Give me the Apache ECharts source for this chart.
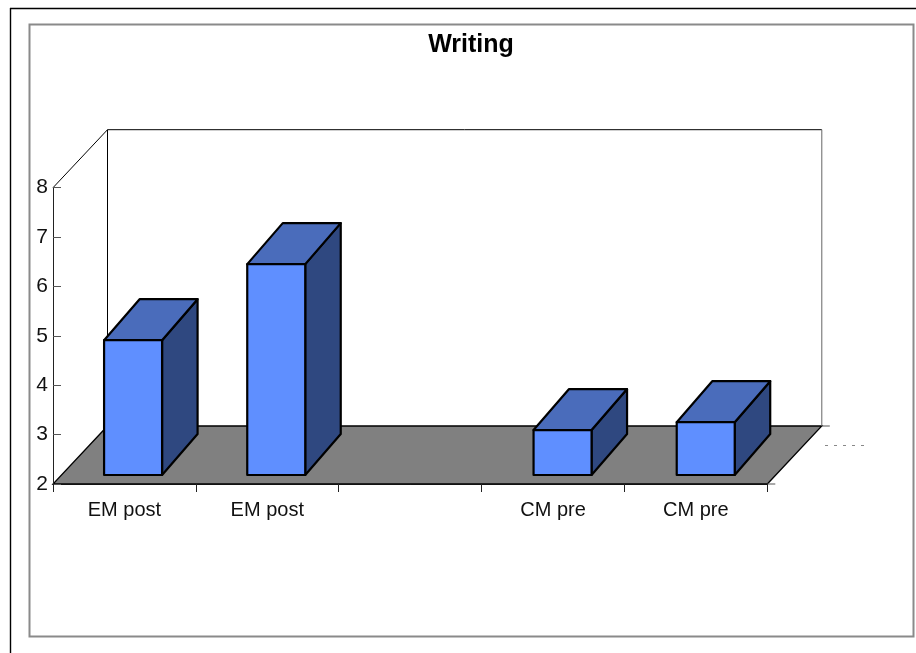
<!DOCTYPE html>
<html>
<head>
<meta charset="utf-8">
<style>html,body{margin:0;padding:0;background:#fff}#c{width:916px;height:653px}</style>
<script src="https://cdn.jsdelivr.net/npm/echarts@6/dist/echarts.min.js"></script>
</head>
<body>
<div id="c"></div>
<script>
var categories = ['EM post', 'EM post', '', 'CM pre', 'CM pre'];
var scores = [4.73, 6.27, null, 2.91, 3.07];
var titleText = 'Writing';
var yMin = 2, yMax = 8, yStep = 1;

var FONT = '"Liberation Sans", Arial, sans-serif';
var WALL_DX = 54.5, WALL_DY = 58;      // projection of the chart's depth
var BAR_DX = 35.5, BAR_DY = 41;        // projection of a bar's depth
var BAR_LIFT = 9, BAR_W = 58;

function sceneItem(params, api) {
  var r = params.coordSys;
  var l = r.x, b = r.y + r.height, t = r.y, e = r.x + r.width;
  var bl = l + WALL_DX, br = e + WALL_DX, bb = b - WALL_DY, bt = t - WALL_DY;
  function line(x1, y1, x2, y2, c) {
    return {type: 'line', shape: {x1: x1, y1: y1, x2: x2, y2: y2}, style: {stroke: c || '#000', lineWidth: 1}};
  }
  return {type: 'group', children: [
    {type: 'polygon', shape: {points: [[l, b], [e, b], [br, bb], [bl, bb]]}, style: {fill: '#808080', stroke: '#000', lineWidth: 1.3}},
    line(l, t, bl, bt), line(bl, bt, br, bt), line(bl, bt, bl, bb), line(br, bt, br, bb, '#666'),
    line(br, bb, br + 8, bb, '#555'), line(e, b, e + 8, b, '#555')
  ]};
}

function barItem(params, api) {
  var i = api.value(0), v = api.value(1);
  var base = api.coord([i, yMin]), top = api.coord([i, v]);
  var cx = base[0] + 8.65 + 0.3 * i;
  var x0 = cx - BAR_W / 2, x1 = cx + BAR_W / 2;
  var yb = base[1] - BAR_LIFT, yt = top[1] - BAR_LIFT;
  var st = {stroke: '#000', lineWidth: 2.2, lineJoin: 'round'};
  function poly(pts, fill) {
    return {type: 'polygon', shape: {points: pts}, style: Object.assign({fill: fill}, st)};
  }
  return {type: 'group', children: [
    poly([[x1, yb], [x1 + BAR_DX, yb - BAR_DY], [x1 + BAR_DX, yt - BAR_DY], [x1, yt]], '#2F4880'),
    poly([[x0, yt], [x1, yt], [x1 + BAR_DX, yt - BAR_DY], [x0 + BAR_DX, yt - BAR_DY]], '#4A6CBB'),
    poly([[x0, yb], [x1, yb], [x1, yt], [x0, yt]], '#5F8FFF')
  ]};
}

var barData = [];
scores.forEach(function (v, i) { if (v !== null) barData.push([i, v]); });

var chart = echarts.init(document.getElementById('c'), null, {renderer: 'canvas'});
chart.setOption({
  animation: false,
  backgroundColor: '#fff',
  title: {
    text: titleText, left: 466, top: 28, textAlign: 'center',
    textStyle: {fontFamily: FONT, fontSize: 25, fontWeight: 'bold', color: '#000'}
  },
  grid: {left: 53, top: 187.7, width: 714.3, height: 296.3, containLabel: false},
  xAxis: {
    type: 'category', data: categories, z: 5,
    axisLine: {lineStyle: {color: '#111', width: 1}},
    axisTick: {show: true, length: 8, alignWithLabel: false, interval: 0, lineStyle: {color: '#222'}},
    axisLabel: {interval: 0, margin: 16, fontFamily: FONT, fontSize: 20, color: '#111'},
    splitLine: {show: false}
  },
  yAxis: {
    type: 'value', min: yMin, max: yMax, interval: yStep, z: 5,
    axisLine: {show: true, lineStyle: {color: '#222', width: 1}},
    axisTick: {show: true, inside: true, length: 8, lineStyle: {color: '#555'}},
    axisLabel: {margin: 5, fontFamily: FONT, fontSize: 21, color: '#111'},
    splitLine: {show: false}
  },
  series: [
    {type: 'custom', name: 'scene', coordinateSystem: 'cartesian2d', data: [[0, yMin]], renderItem: sceneItem, silent: true, z: 1, clip: false},
    {type: 'custom', name: 'Writing', coordinateSystem: 'cartesian2d', data: barData, encode: {x: 0, y: 1}, renderItem: barItem, z: 2, clip: false}
  ],
  graphic: [
    {type: 'line', shape: {x1: 10, y1: 8.5, x2: 916, y2: 8.5}, style: {stroke: '#000', lineWidth: 1.4}, silent: true},
    {type: 'line', shape: {x1: 10.5, y1: 8, x2: 10.5, y2: 653}, style: {stroke: '#000', lineWidth: 1.4}, silent: true},
    {type: 'rect', shape: {x: 29.5, y: 24.5, width: 884, height: 612}, style: {fill: 'none', stroke: '#8a8a8a', lineWidth: 2}, silent: true, z: -1},
    {type: 'line', shape: {x1: 825, y1: 445.5, x2: 868, y2: 445.5}, style: {stroke: '#888', lineWidth: 1, lineDash: [3, 6]}, silent: true}
  ]
});
</script>
</body>
</html>
